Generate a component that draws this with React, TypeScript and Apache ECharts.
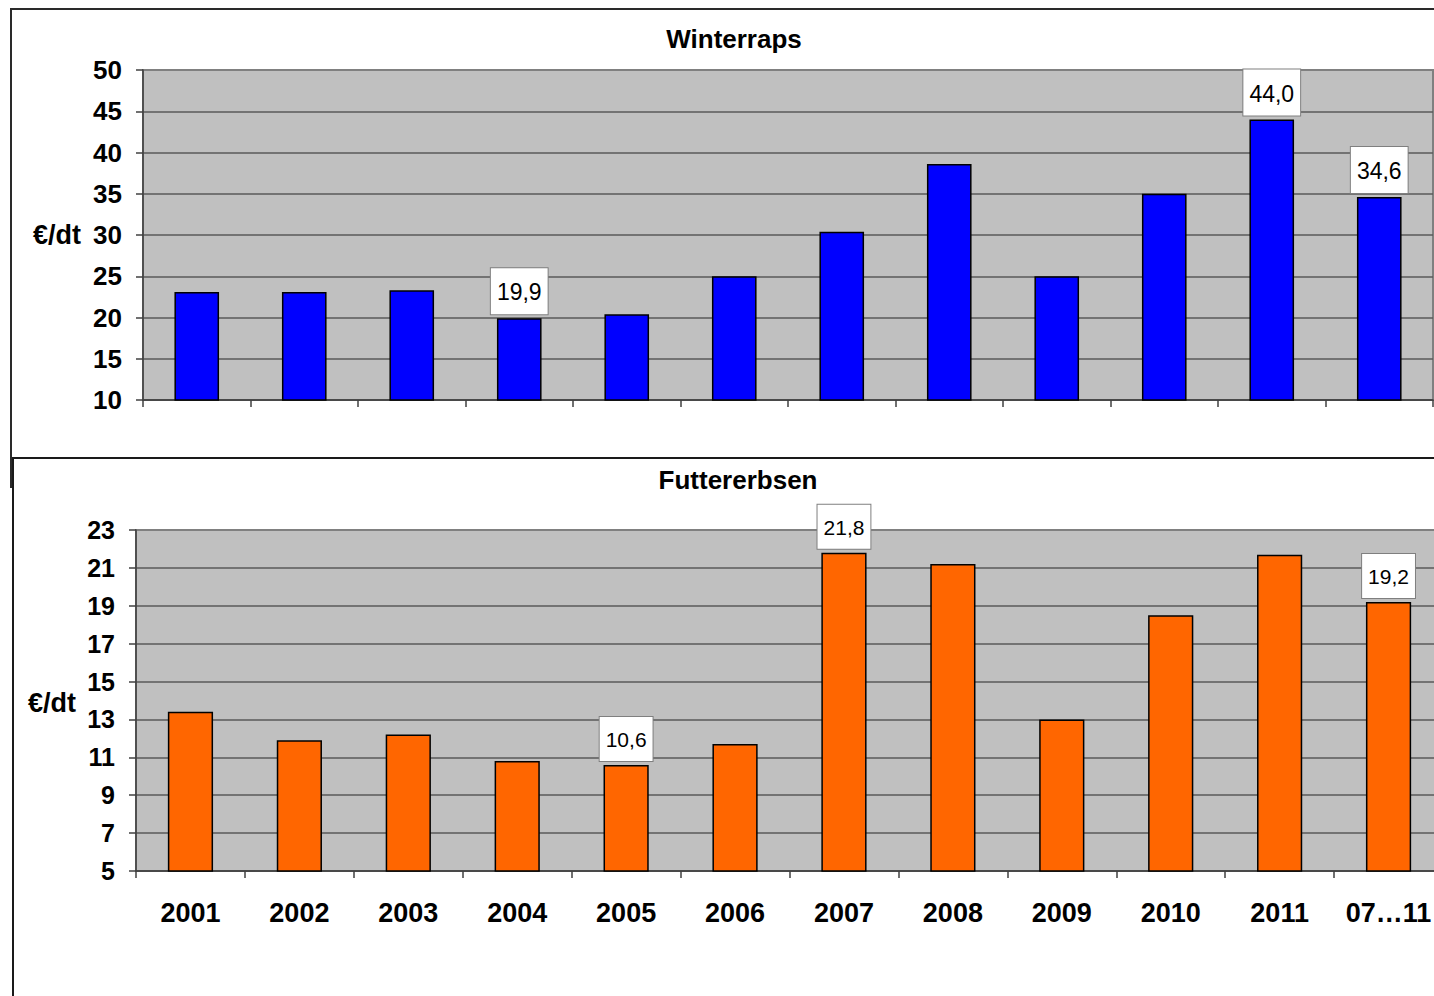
import React, { useEffect, useRef } from 'react';
import * as echarts from 'echarts';

const categories = ['2001', '2002', '2003', '2004', '2005', '2006', '2007', '2008', '2009', '2010', '2011', '07…11'];
const winterrapsValues = [23.1, 23.1, 23.3, 19.9, 20.4, 25.0, 30.4, 38.6, 25.0, 35.0, 44.0, 34.6];
const futtererbsenValues = [13.4, 11.9, 12.2, 10.8, 10.6, 11.7, 21.8, 21.2, 13.0, 18.5, 21.7, 19.2];
const winterrapsLabelled = [3, 10, 11];
const futtererbsenLabelled = [4, 6, 11];
const winterrapsTicks = [10, 15, 20, 25, 30, 35, 40, 45, 50];
const futtererbsenTicks = [5, 7, 9, 11, 13, 15, 17, 19, 21, 23];
const titles = ['Winterraps', 'Futtererbsen'];
const unitLabel = '€/dt';

const FONT = '"Liberation Sans", Arial, Helvetica, sans-serif';
const AXIS_COLOR = '#404040';
const GRID_LINE = '#5a5a5a';
const CHART_W = 1460;

const fmt = (v: number) => Number(v).toFixed(1).replace('.', ',');

function buildData(values: number[], labelled: number[]) {
  return values.map((v, i) => (labelled.includes(i) ? { value: v, label: { show: true } } : v));
}

export default function App() {
  const ref = useRef<HTMLDivElement>(null);

  useEffect(() => {
    if (!ref.current) return;
    const chart = echarts.init(ref.current, undefined, { renderer: 'svg' });

    const labelBase = (fontSize: number, lineHeight: number, padding: number[]) => ({
      show: false,
      position: 'top',
      distance: 4,
      formatter: (p: any) => fmt(p.value),
      backgroundColor: '#ffffff',
      borderColor: '#7f7f7f',
      borderWidth: 1,
      padding,
      fontSize,
      lineHeight,
      color: '#000',
      fontFamily: FONT,
    });

    const catAxis = (gridIndex: number, showLabels: boolean) => ({
      type: 'category',
      gridIndex,
      data: categories,
      boundaryGap: true,
      axisLine: { show: true, lineStyle: { color: AXIS_COLOR, width: 1.5 } },
      axisTick: { show: true, length: 7, alignWithLabel: false, lineStyle: { color: AXIS_COLOR, width: 1.5 } },
      axisLabel: {
        show: showLabels,
        interval: 0,
        fontSize: 27,
        fontWeight: 'bold',
        color: '#000',
        fontFamily: FONT,
        margin: 28,
      },
      splitLine: { show: false },
    });

    const option: any = {
      animation: false,
      backgroundColor: 'transparent',
      grid: [
        {
          left: 143,
          top: 70,
          right: CHART_W - 1433,
          height: 330,
          show: true,
          backgroundColor: '#c0c0c0',
          borderColor: '#808080',
          borderWidth: 2,
        },
        {
          left: 136,
          top: 530,
          right: CHART_W - 136 - 1307,
          height: 341,
          show: true,
          backgroundColor: '#c0c0c0',
          borderColor: '#808080',
          borderWidth: 2,
        },
      ],
      xAxis: [catAxis(0, false), catAxis(1, true)],
      yAxis: [
        {
          type: 'value',
          gridIndex: 0,
          min: winterrapsTicks[0],
          max: winterrapsTicks[winterrapsTicks.length - 1],
          interval: 5,
          axisLine: { show: true, lineStyle: { color: AXIS_COLOR, width: 1.5 } },
          axisTick: { show: true, length: 7, lineStyle: { color: AXIS_COLOR, width: 1.5 } },
          axisLabel: { fontSize: 26, fontWeight: 'bold', color: '#000', fontFamily: FONT, margin: 21 },
          splitLine: { show: true, showMaxLine: false, lineStyle: { color: GRID_LINE, width: 1.5 } },
        },
        {
          type: 'value',
          gridIndex: 1,
          min: futtererbsenTicks[0],
          max: futtererbsenTicks[futtererbsenTicks.length - 1],
          axisLine: { show: true, lineStyle: { color: AXIS_COLOR, width: 1.5 } },
          axisTick: {
            show: true,
            length: 7,
            customValues: futtererbsenTicks,
            lineStyle: { color: AXIS_COLOR, width: 1.5 },
          },
          axisLabel: {
            customValues: futtererbsenTicks,
            fontSize: 25,
            fontWeight: 'bold',
            color: '#000',
            fontFamily: FONT,
            margin: 21,
          },
          splitLine: { show: true, showMaxLine: false, lineStyle: { color: GRID_LINE, width: 1.5 } },
        },
      ],
      series: [
        {
          type: 'bar',
          name: titles[0],
          xAxisIndex: 0,
          yAxisIndex: 0,
          data: buildData(winterrapsValues, winterrapsLabelled),
          barWidth: '41.5%',
          itemStyle: { color: '#0000ff', borderColor: '#000', borderWidth: 1.5 },
          label: labelBase(23, 26, [11, 6, 9, 6]),
        },
        {
          type: 'bar',
          name: titles[1],
          xAxisIndex: 1,
          yAxisIndex: 1,
          data: buildData(futtererbsenValues, futtererbsenLabelled),
          barWidth: '41.5%',
          itemStyle: { color: '#ff6600', borderColor: '#000', borderWidth: 1.5 },
          label: labelBase(21, 24, [11, 6, 9, 6]),
        },
      ],
      graphic: [
        {
          type: 'text',
          x: 734,
          y: 39,
          style: {
            text: titles[0],
            align: 'center',
            verticalAlign: 'middle',
            fontSize: 26,
            fontWeight: 'bold',
            fontFamily: FONT,
            fill: '#000',
          },
        },
        {
          type: 'text',
          x: 738,
          y: 480,
          style: {
            text: titles[1],
            align: 'center',
            verticalAlign: 'middle',
            fontSize: 26,
            fontWeight: 'bold',
            fontFamily: FONT,
            fill: '#000',
          },
        },
        {
          type: 'text',
          x: 33,
          y: 235,
          style: {
            text: unitLabel,
            align: 'left',
            verticalAlign: 'middle',
            fontSize: 27,
            fontWeight: 'bold',
            fontFamily: FONT,
            fill: '#000',
          },
        },
        {
          type: 'text',
          x: 28,
          y: 703,
          style: {
            text: unitLabel,
            align: 'left',
            verticalAlign: 'middle',
            fontSize: 27,
            fontWeight: 'bold',
            fontFamily: FONT,
            fill: '#000',
          },
        },
      ],
    };

    chart.setOption(option);
    return () => chart.dispose();
  }, []);

  return (
    <div
      style={{
        position: 'fixed',
        left: 0,
        top: 0,
        width: 1434,
        height: 996,
        overflow: 'hidden',
        background: '#ffffff',
      }}
    >
      <div
        style={{
          position: 'absolute',
          left: 10,
          top: 8,
          width: 1600,
          height: 480,
          border: '2px solid #2a2a2a',
          boxSizing: 'border-box',
          background: '#ffffff',
        }}
      />
      <div
        style={{
          position: 'absolute',
          left: 12,
          top: 457,
          width: 1600,
          height: 700,
          border: '2px solid #1a1a1a',
          boxSizing: 'border-box',
          background: '#ffffff',
        }}
      />
      <div ref={ref} style={{ position: 'absolute', left: 0, top: 0, width: CHART_W, height: 996 }} />
    </div>
  );
}
